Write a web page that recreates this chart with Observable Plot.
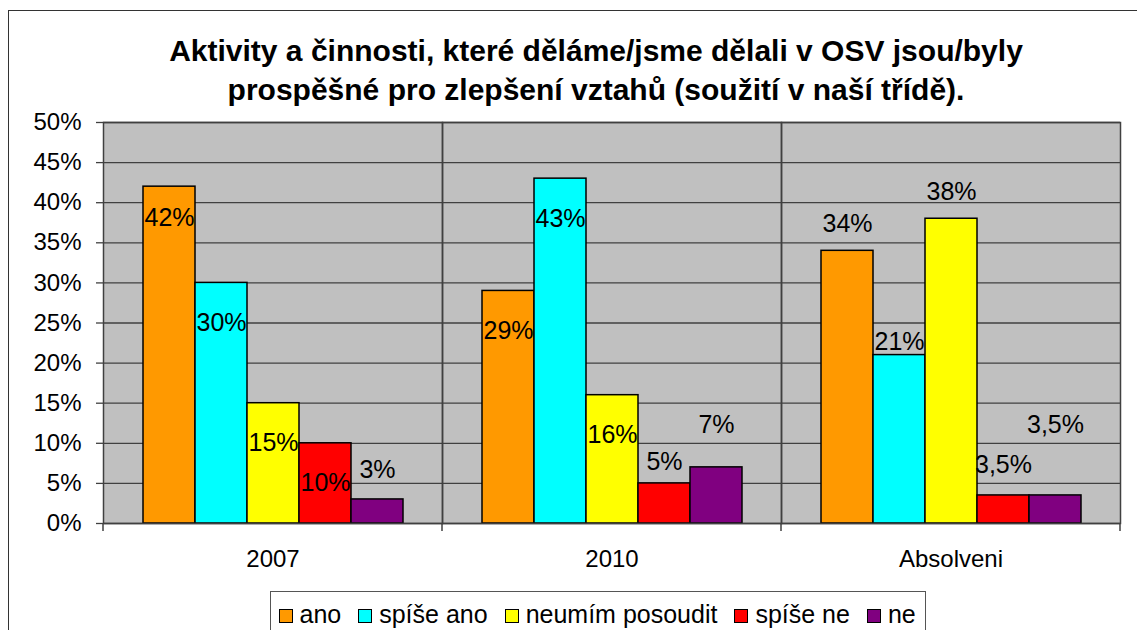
<!DOCTYPE html>
<html>
<head>
<meta charset="utf-8">
<script src="https://cdn.jsdelivr.net/npm/d3@7"></script>
<script src="https://cdn.jsdelivr.net/npm/@observablehq/plot@0.6"></script>
<style>
html, body { margin: 0; padding: 0; background: #fff; overflow: hidden; }
#wrap { position: relative; width: 1137px; height: 630px; overflow: hidden; font-family: "Liberation Sans", Arial, sans-serif; }
#chart { position: absolute; left: 0; top: 0; }
#border { position: absolute; left: 8px; top: 10px; width: 1250px; height: 700px; border: 1.5px solid #333; box-sizing: border-box; pointer-events: none; }
#title { position: absolute; left: 0; top: 31px; width: 1192px; text-align: center; font-weight: bold; font-size: 30px; line-height: 39px; color: #000; }
#legend { position: absolute; left: 270px; top: 591px; height: 80px; border: 1.5px solid #555; background: #fff; padding: 7px 9px 0 7.5px; font-size: 25px; line-height: 30px; white-space: nowrap; color: #000; }
#legend .sw { display: inline-block; width: 14px; height: 14px; border: 1.5px solid #000; box-sizing: border-box; margin-right: 7px; vertical-align: baseline; }
#legend .it { margin-right: 17px; }
#legend .it:last-child { margin-right: 0; }
</style>
</head>
<body>
<div id="wrap">
  <div id="chart"></div>
  <div id="title">Aktivity a činnosti, které děláme/jsme dělali v OSV jsou/byly<br>prospěšné pro zlepšení vztahů (soužití v naší třídě).</div>
  <div id="legend"></div>
  <div id="border"></div>
</div>
<script>
// ---- data ----
const groups = ["2007", "2010", "Absolveni"];
const series = ["ano", "spíše ano", "neumím posoudit", "spíše ne", "ne"];
const values2007 = [42, 30, 15, 10, 3];
const values2010 = [29, 43, 16, 5, 7];
const valuesAbsolveni = [34, 21, 38, 3.5, 3.5];
const yTicks = [0, 0.05, 0.10, 0.15, 0.20, 0.25, 0.30, 0.35, 0.40, 0.45, 0.50];

// ---- styles ----
const colors = ["#FF9900", "#00FFFF", "#FFFF00", "#FF0000", "#800080"];
// vertical nudges (px) of the data labels, as placed in the original
const labelDy = [31, 40, 40, 40, -29,  40, 40, 40, -21, -42,  -27, -13, -27, -30, -70];

const allValues = [values2007, values2010, valuesAbsolveni];
const rows = [];
groups.forEach((g, gi) => series.forEach((s, si) => rows.push({group: g, series: s, value: allValues[gi][si] / 100})));

const fmtLabel = v => String(Math.round(v * 1000) / 10).replace(".", ",") + "%";
const FONT = "Liberation Sans, Arial, sans-serif";

const chart = Plot.plot({
  width: 1137,
  height: 630,
  marginTop: 122,
  marginBottom: 107,
  marginLeft: 102,
  marginRight: 16,
  style: {fontFamily: FONT, background: "transparent", color: "#000"},
  fx: {domain: groups, padding: 0},
  x: {domain: series, paddingInner: 0, paddingOuter: 0.74, axis: null},
  y: {domain: [0, 0.5]},
  color: {domain: series, range: colors},
  marks: [
    Plot.frame({fill: "#C0C0C0", stroke: null}),
    Plot.ruleY(yTicks, {stroke: "#404040", strokeWidth: 1.3}),
    Plot.barY(rows, {fx: "group", x: "series", y: "value", fill: "series", stroke: "#000", strokeWidth: 1.5}),
    Plot.frame({stroke: "#404040", strokeWidth: 1.5}),
    ...rows.map((d, i) => Plot.text([d], {
      fx: "group", x: "series", y: "value", text: r => fmtLabel(r.value),
      dy: labelDy[i], fontSize: 25, fill: "#000", lineAnchor: "middle", textAnchor: "middle", fontFamily: FONT
    })),
    Plot.axisY({ticks: yTicks, tickFormat: d3.format(".0%"), tickSize: 7, tickPadding: 15, fontSize: 24, stroke: "#404040", strokeWidth: 1.3, label: null}),
    Plot.axisFx({anchor: "bottom", tickSize: 0, tickPadding: 26, fontSize: 24, label: null})
  ]
});

// separator ticks below the category axis, from the fx and y scales
const fx = chart.scale("fx");
const ys = chart.scale("y");
const edges = fx.domain.map(g => fx.apply(g));
edges.push(fx.apply(fx.domain[fx.domain.length - 1]) + fx.bandwidth);
const y0 = ys.apply(0);
d3.select(chart).append("g")
  .attr("stroke", "#404040").attr("stroke-width", 1.5)
  .selectAll("line").data(edges).join("line")
  .attr("x1", d => d).attr("x2", d => d)
  .attr("y1", y0).attr("y2", y0 + 8);

document.getElementById("chart").appendChild(chart);

// legend
const leg = d3.select("#legend");
series.forEach((s, i) => {
  const it = leg.append("span").attr("class", "it");
  it.append("span").attr("class", "sw").style("background", colors[i]);
  it.append("span").text(s);
});
</script>
</body>
</html>
